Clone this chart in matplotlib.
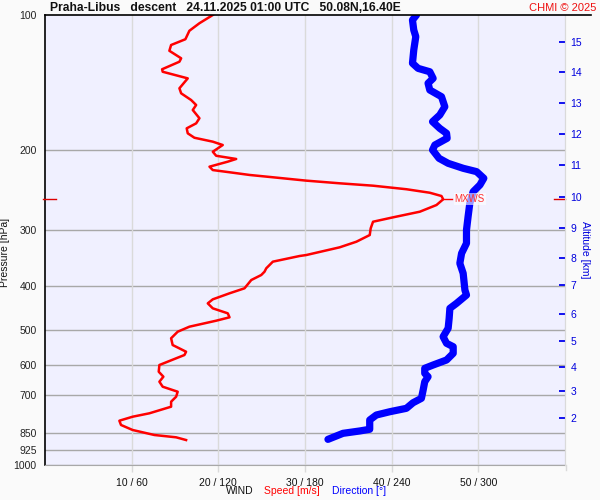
import matplotlib
matplotlib.use("Agg")
import matplotlib.pyplot as plt
from matplotlib.lines import Line2D
import numpy as np

plt.rcParams['font.family'] = ['Liberation Sans', 'DejaVu Sans']

# ---------------- data ----------------
speed_p = [100, 104.3, 108.4, 113.2, 116.6, 120.1, 124.8, 127.0, 132.0, 133.7, 138.3, 145.5,
           149.3, 154.5, 158.5, 162.6, 169.6, 174.1, 178.6, 183.2, 187.4, 191.2, 194.5, 201.3,
           205.5, 208.9, 211.8, 217.3, 221.1, 224.1, 226.7, 229.4, 233.4, 236.6, 239.5, 243.9,
           248.3, 252.5, 256.8, 264.4, 273.6, 281.6, 288.0, 297.9, 308.3, 319.0, 328.3, 341.5,
           343.2, 353.3, 365.5, 371.9, 378.3, 388.1, 404.9, 415.4, 428.4, 437.3, 448.6, 460.2,
           469.7, 477.9, 492.8, 505.6, 522.9, 541.2, 560.1, 569.6, 579.3, 599.5, 620.4, 636.5,
           653.0, 669.9, 687.3, 705.1, 723.4, 742.1, 767.6, 781.1, 797.2, 814.8, 836.0, 857.7,
           867.9, 880.1]
speed_ms = [19.36, 17.82, 16.66, 16.20, 14.55, 14.35, 15.71, 15.51, 13.51, 13.58, 16.47, 15.51,
            15.71, 16.86, 17.44, 17.05, 17.82, 17.44, 16.35, 16.47, 17.24, 19.36, 20.51, 19.36,
            19.75, 22.06, 21.09, 18.98, 19.36, 21.67, 23.60, 26.29, 30.15, 34.00, 37.85, 41.71,
            44.40, 45.75, 45.94, 45.17, 43.25, 40.16, 37.85, 37.58, 37.47, 35.93, 34.00, 30.15,
            29.38, 26.29, 25.53, 25.33, 24.95, 23.80, 23.02, 21.29, 19.36, 18.78, 19.36, 21.09,
            21.29, 19.75, 16.66, 15.31, 14.55, 14.73, 16.28, 16.09, 15.13, 13.20, 13.12, 13.66,
            13.20, 13.58, 15.31, 15.13, 14.55, 14.55, 12.04, 10.11, 8.58, 8.77, 10.11, 12.62,
            15.13, 16.28]

dir_p = [100, 102.6, 108.0, 111.7, 119.6, 128.0, 131.4, 133.7, 138.3, 141.8, 146.8, 151.9,
         159.9, 166.8, 172.6, 178.6, 183.2, 187.9, 194.5, 199.5, 208.2, 213.6, 219.1, 222.9,
         230.6, 238.6, 247.0, 262.1, 280.7, 300.5, 321.6, 338.6, 356.3, 375.0, 408.4, 419.1,
         437.3, 448.6, 472.1, 496.8, 518.7, 536.5, 545.9, 564.8, 584.3, 599.5, 609.7, 625.5,
         636.5, 653.0, 681.3, 710.9, 727.2, 748.2, 761.4, 774.3, 794.3, 833.0, 840.2, 850.4,
         877.0]
dir_deg = [257.2, 254.4, 255.3, 256.7, 255.3, 254.4, 258.3, 266.4, 268.7, 265.2, 266.4, 274.5,
           276.8, 273.3, 268.3, 273.3, 278.0, 278.4, 269.9, 268.3, 272.8, 279.1, 289.5, 298.8,
           303.8, 301.1, 296.4, 294.1, 292.9, 291.8, 291.8, 288.4, 287.2, 289.5, 290.7, 291.8,
           284.9, 280.3, 279.8, 279.1, 275.6, 278.0, 282.6, 282.6, 278.0, 268.7, 262.9, 262.9,
           265.2, 262.9, 261.8, 260.6, 254.8, 250.2, 238.7, 229.4, 224.8, 224.8, 217.9, 206.3,
           195.9]

mxws_speed = 45.94
mxws_p = 256.8

p_ticks = [100, 200, 300, 400, 500, 600, 700, 850, 925, 1000]
p_labels = ["100", "200", "300", "400", "500", "600", "700", "850", "925", "1000"]
x_ticks = [10, 20, 30, 40, 50]
x_labels = ["10 / 60", "20 / 120", "30 / 180", "40 / 240", "50 / 300"]
alt_km = [2, 3, 4, 5, 6, 7, 8, 9, 10, 11, 12, 13, 14, 15]
alt_p = [786, 685, 606, 530, 462, 398, 347, 297.9, 253.4, 215.4, 183.8, 156.7, 133.7, 114.6]

title = "Praha-Libus   descent   24.11.2025 01:00 UTC   50.08N,16.40E"

# ---------------- figure ----------------
W, H = 600, 500
fig = plt.figure(figsize=(6, 5), dpi=100, facecolor='#FAFAFA')
ax = fig.add_axes([45 / W, 35 / H, 520 / W, 450 / H])
ax.set_facecolor('#F0F0FF')
ax.set_yscale('log')
ax.set_ylim(1000, 100)
ax.set_xlim(0, 60)

grid_h = '#A8A8A8'
grid_v = '#DADADA'
for p in p_ticks[1:]:
    ax.axhline(p, color=grid_h, lw=1.0, zorder=1)
for x in x_ticks:
    ax.axvline(x, color=grid_v, lw=1.0, zorder=1)

ax.set_yticks(p_ticks)
ax.set_yticklabels(p_labels)
ax.yaxis.set_minor_locator(matplotlib.ticker.NullLocator())
ax.tick_params(axis='y', length=0, pad=6, labelsize=7.5, colors='#222222')
ax.set_xticks(x_ticks)
ax.set_xticklabels(x_labels)
ax.tick_params(axis='x', length=5, width=1, color=grid_v, pad=4, labelsize=7.5, labelcolor='#111111')
ax.set_ylabel("Pressure [hPa]", fontsize=7.5, color='#111111')
ax.yaxis.set_label_coords((10 - 45) / 520, 0.473)

ax.spines['top'].set_visible(False)
ax.spines['left'].set_color('black')
ax.spines['left'].set_linewidth(1.2)
ax.spines['bottom'].set_color(grid_h)
ax.spines['right'].set_color(grid_v)

# curves
dir_scaled = [d / 6.0 for d in dir_deg]
ax.plot(dir_scaled, dir_p, color='#0000FF', lw=5.2,
        solid_capstyle='round', solid_joinstyle='round', zorder=3)
ax.plot(speed_ms, speed_p, color='#FF0000', lw=1.8, zorder=4)

# MXWS marker
ax.plot([mxws_speed, mxws_speed + 1.0], [mxws_p, mxws_p], color='#FF0000', lw=1.0, zorder=4)
ax.annotate("MXWS", (mxws_speed + 1.0, mxws_p), xytext=(2, 0), textcoords='offset points',
            fontsize=7, color='#FF3030', va='center', ha='left', zorder=5,
            bbox=dict(boxstyle='square,pad=0.1', fc='white', ec='none', alpha=0.6))
ax.plot([-0.004, 0.021], [mxws_p, mxws_p], color='#DD0000', lw=1.0,
        transform=ax.get_yaxis_transform(), clip_on=False, zorder=5)
ax.plot([0.979, 1.0], [mxws_p, mxws_p], color='#DD0000', lw=1.0,
        transform=ax.get_yaxis_transform(), clip_on=False, zorder=5)

# right altitude axis
ax2 = ax.twinx()
ax2.set_yscale('log')
ax2.set_ylim(1000, 100)
ax2.set_yticks(alt_p)
ax2.set_yticklabels([str(a) for a in alt_km])
ax2.yaxis.set_minor_locator(matplotlib.ticker.NullLocator())
ax2.tick_params(axis='y', direction='in', length=4.5, width=1.3, color='#0000EE',
                labelcolor='#0000DD', labelsize=7.5, pad=4)
for s in ['top', 'left', 'bottom']:
    ax2.spines[s].set_visible(False)
ax2.spines['right'].set_color(grid_v)
ax2.set_ylabel("Altitude [km]", fontsize=7.5, color='#0000DD', rotation=-90)
ax2.yaxis.set_label_coords((590 - 45) / 520, 0.478)

# right axis line extends below
fig.add_artist(Line2D([565.5 / W, 565.5 / W], [30 / H, 35 / H], color=grid_v, lw=1))

# top line and title
fig.add_artist(Line2D([45 / W, 591 / W], [485 / H, 485 / H], color='black', lw=1.2))
fig.text(50 / W, 1 - 8 / H, title, fontsize=8.7, fontweight='bold', ha='left', va='center',
         color='#111111')
fig.text(596 / W, 1 - 8 / H, "CHMI © 2025", fontsize=8, ha='right', va='center', color='#EE1111')

# bottom legend text
fig.text(254 / W, 1 - 491 / H, "WIND", fontsize=7.5, ha='right', va='center', color='#111111')
fig.text(264 / W, 1 - 491 / H, "Speed [m/s]", fontsize=7.5, ha='left', va='center', color='#FF0000')
fig.text(332 / W, 1 - 491 / H, "Direction [°]", fontsize=7.5, ha='left', va='center', color='#0000FF')

fig.savefig("out.png", dpi=100, facecolor=fig.get_facecolor())
